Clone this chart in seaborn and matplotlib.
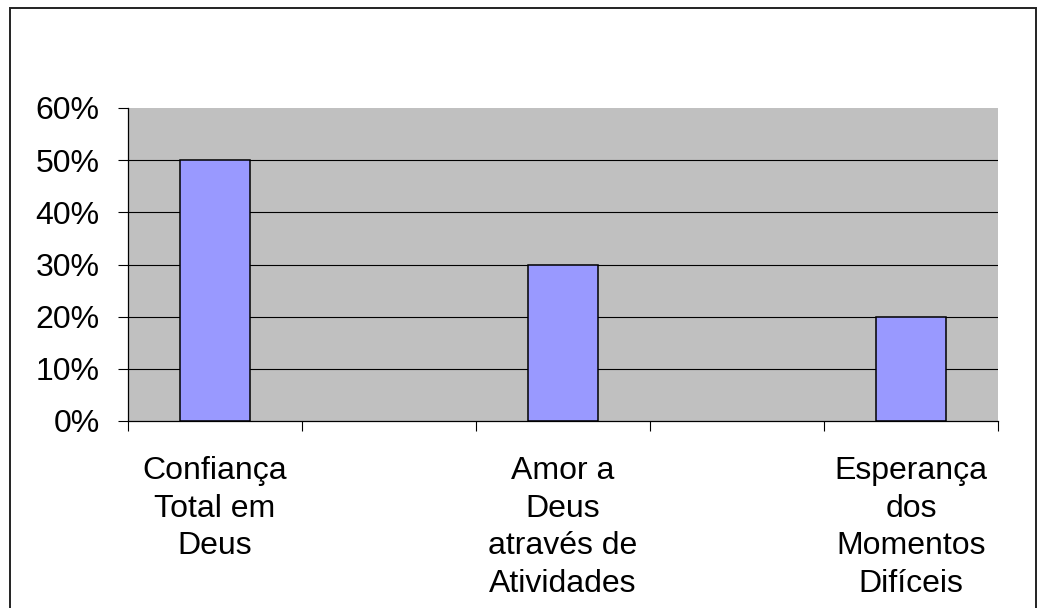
import matplotlib
matplotlib.use("Agg")
import matplotlib.pyplot as plt
import seaborn as sns
import pandas as pd
import numpy as np
from matplotlib.patches import Rectangle
from matplotlib.ticker import PercentFormatter

categories = ["Confiança\nTotal em\nDeus", "Amor a\nDeus\natravés de\nAtividades", "Esperança\ndos\nMomentos\nDifíceis"]
values = [0.50, 0.30, 0.20]
slot_order = [categories[0], " ", categories[1], "  ", categories[2]]
y_ticks = [0.0, 0.1, 0.2, 0.3, 0.4, 0.5, 0.6]

sns.set_style("white")
plt.rcParams['font.family'] = ['Liberation Sans', 'DejaVu Sans']
plt.rcParams['text.color'] = 'black'
plt.rcParams['xtick.color'] = 'black'
plt.rcParams['ytick.color'] = 'black'

df = pd.DataFrame({"cat": categories, "val": values})

fig = plt.figure(figsize=(10.48, 6.08), dpi=100)
ax = fig.add_axes([128/1048, 187/608, 870/1048, 313/608])
ax.set_facecolor("#C0C0C0")

sns.barplot(data=df, x="cat", y="val", order=slot_order, color="#9999FF",
            saturation=1, width=0.4, edgecolor="black", linewidth=1.1, ax=ax, zorder=3)

ax.set_ylim(0, 0.6)
ax.set_xlim(-0.5, 4.5)
ax.set_yticks(y_ticks)
ax.yaxis.set_major_formatter(PercentFormatter(1.0, decimals=0))
for yv in y_ticks[1:-1]:
    ax.axhline(yv, color="black", lw=0.8, zorder=1)

# labels at category centres, tick marks at category boundaries
ax.set_xticks([0, 2, 4])
ax.set_xticklabels(categories, fontsize=23, linespacing=1.34, color="black")
ax.set_xticks(np.arange(-0.5, 5.0, 1.0), minor=True)
ax.tick_params(axis="x", which="major", bottom=True, length=0, pad=25)
ax.tick_params(axis="x", which="minor", bottom=True, length=7, width=0.8,
               color="black", direction="out")
ax.tick_params(axis="y", which="major", left=True, length=7, width=0.8, color="black",
               direction="out", labelsize=23, labelcolor="black", pad=13.5)
ax.set_xlabel("")
ax.set_ylabel("")

for s in ["top", "right"]:
    ax.spines[s].set_visible(False)
for s in ["left", "bottom"]:
    ax.spines[s].set_color("black")
    ax.spines[s].set_linewidth(0.9)
    ax.spines[s].set_zorder(4)

fig.patches.append(Rectangle((10/1048, -0.2), 1026/1048, (608 - 8)/608 + 0.2,
                             transform=fig.transFigure, fill=False,
                             edgecolor="#222222", lw=1.4, zorder=10))

fig.savefig("out.png", dpi=100)
